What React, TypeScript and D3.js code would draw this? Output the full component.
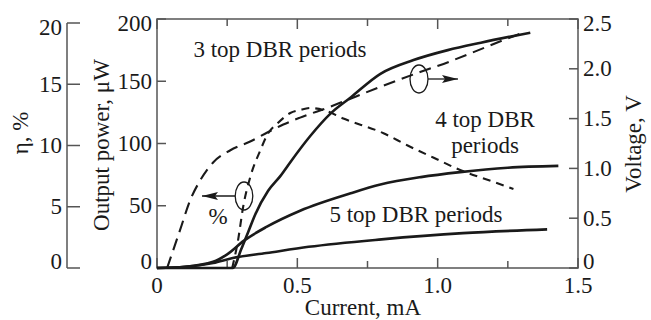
import * as d3 from "d3";

type Pt = [number, number];

// current (mA) vs output power (uW)
const power3: Pt[] = [
  [0, 0], [0.27, 0], [0.3, 15], [0.325, 29], [0.35, 43], [0.396, 62],
  [0.44, 74], [0.475, 85], [0.546, 106], [0.618, 124], [0.69, 137], [0.796, 156],
  [0.914, 167], [1.036, 175], [1.154, 181], [1.33, 189],
];
const power4: Pt[] = [
  [0, 0], [0.1, 1], [0.2, 5], [0.25, 11], [0.31, 22], [0.39, 33],
  [0.51, 46], [0.69, 60], [0.796, 67], [0.94, 73], [1.08, 77],
  [1.25, 80.5], [1.43, 82],
];
const power5: Pt[] = [
  [0, 0], [0.1, 1], [0.2, 4], [0.27, 8], [0.39, 12], [0.54, 17],
  [0.8, 23], [1.09, 28], [1.39, 31],
];
// current (mA) vs voltage (V)
const voltage: Pt[] = [
  [0.036, 0], [0.082, 0.38], [0.118, 0.68], [0.154, 0.88], [0.2, 1.06],
  [0.26, 1.18], [0.332, 1.27], [0.393, 1.36], [0.45, 1.44], [0.51, 1.51],
  [0.618, 1.62], [0.707, 1.72], [0.796, 1.82], [0.94, 1.97], [1.04, 2.07],
  [1.13, 2.17], [1.236, 2.29], [1.3, 2.36],
];
// current (mA) vs efficiency (%)
const eta: Pt[] = [
  [0.268, 0], [0.289, 2.3], [0.307, 5], [0.332, 7.4], [0.368, 9.6],
  [0.396, 11], [0.429, 11.8], [0.475, 12.65], [0.51, 12.9], [0.546, 13.06],
  [0.593, 12.9], [0.664, 12.2], [0.807, 11], [0.893, 10], [0.986, 9],
  [1.08, 8], [1.18, 7.18], [1.27, 6.45],
];

const xTicks = [0, 0.5, 1.0, 1.5];
const xMinor = [0.25, 0.75, 1.25];
const powerTicks = [0, 50, 100, 150, 200];
const voltTicks = [0, 0.5, 1.0, 1.5, 2.0, 2.5];
const etaTicks = [0, 5, 10, 15, 20];

const W = 651;
const H = 320;
const L = 157, R = 578, T = 19, B = 268;
const FONT = "'Liberation Serif', 'Times New Roman', serif";
const INK = "#1a1a1a";
const AXIS = "#555";

export default function App() {
  const x = d3.scaleLinear().domain([0, 1.5]).range([L, R]);
  const yP = d3.scaleLinear().domain([0, 200]).range([B, T]);
  const yV = d3.scaleLinear().domain([0, 2.5]).range([B, T]);
  const yE = d3.scaleLinear().domain([0, 20]).range([B, 23]);

  const mk = (y: d3.ScaleLinear<number, number>) =>
    d3.line<Pt>().x((d) => x(d[0])).y((d) => y(d[1])).curve(d3.curveMonotoneX);

  const fmt = (v: number) => (v === 0 ? "0" : v.toFixed(1));

  // nudge end labels off the frame corners like the original
  const labelDy = (v: number, max: number) => (v === 0 ? -7 : v === max ? 4 : 0);

  return (
    <svg width={W} height={H} style={{ position: "absolute", left: 0, top: 0, background: "#fff" }}
      fontFamily={FONT} fill={INK}>
      <defs>
        <marker id="ah" viewBox="0 0 16 8" refX="16" refY="4" markerWidth="16" markerHeight="8"
          markerUnits="userSpaceOnUse" orient="auto">
          <path d="M0,0 L16,4 L0,8 L3,4 Z" fill={INK} />
        </marker>
      </defs>

      {/* eta axis */}
      <line x1={67} x2={67} y1={yE(20)} y2={yE(0)} stroke={AXIS} strokeWidth={1.5} />
      {etaTicks.map((t) => (
        <g key={"e" + t}>
          <line x1={67} x2={80} y1={yE(t)} y2={yE(t)} stroke={AXIS} strokeWidth={1.5} />
          <text x={62} y={yE(t) + 7.5 + labelDy(t, 20)} textAnchor="end" fontSize={23}>{t}</text>
        </g>
      ))}
      <text transform={`translate(28,133) rotate(-90)`} textAnchor="middle" fontSize={23}>η, %</text>

      {/* frame */}
      <rect x={L} y={T} width={R - L} height={B - T} fill="none" stroke={AXIS} strokeWidth={1.5} />
      {xTicks.concat(xMinor).map((t) => {
        const len = xMinor.includes(t) ? 7 : 10;
        return (
          <g key={"x" + t}>
            <line x1={x(t)} x2={x(t)} y1={B} y2={B - len} stroke={AXIS} strokeWidth={1.5} />
            <line x1={x(t)} x2={x(t)} y1={T} y2={T + len} stroke={AXIS} strokeWidth={1.5} />
          </g>
        );
      })}
      {xTicks.map((t) => (
        <text key={"xl" + t} x={x(t)} y={293} textAnchor="middle" fontSize={23}>{fmt(t)}</text>
      ))}
      <text x={363} y={315} textAnchor="middle" fontSize={23}>Current, mA</text>

      {powerTicks.map((t) => (
        <g key={"p" + t}>
          <line x1={L} x2={L + 9} y1={yP(t)} y2={yP(t)} stroke={AXIS} strokeWidth={1.5} />
          <text x={152} y={yP(t) + 7.5 + labelDy(t, 200)} textAnchor="end" fontSize={23}>{t}</text>
        </g>
      ))}
      <text transform={`translate(109,145) rotate(-90)`} textAnchor="middle" fontSize={23}>Output power, μW</text>

      {voltTicks.map((t) => (
        <g key={"v" + t}>
          <line x1={R - 9} x2={R} y1={yV(t)} y2={yV(t)} stroke={AXIS} strokeWidth={1.5} />
          <text x={583} y={yV(t) + 7.5 + labelDy(t, 2.5)} textAnchor="start" fontSize={23}>{fmt(t)}</text>
        </g>
      ))}
      <text transform={`translate(641,144) rotate(-90)`} textAnchor="middle" fontSize={23}>Voltage, V</text>

      {/* curves */}
      <g fill="none" stroke={INK} strokeWidth={2.6} strokeLinejoin="round">
        <path d={mk(yP)(power3) ?? ""} />
        <path d={mk(yP)(power4) ?? ""} />
        <path d={mk(yP)(power5) ?? ""} />
        <path d={mk(yV)(voltage) ?? ""} strokeDasharray="12,7" strokeWidth={2.1} />
        <path d={mk(yE)(eta) ?? ""} strokeDasharray="8,6" strokeWidth={2.1} />
      </g>

      {/* curve markers */}
      <g fill="none" stroke={INK} strokeWidth={1.3}>
        <ellipse cx={244} cy={196} rx={8.8} ry={14} />
        <line x1={235} y1={196} x2={202} y2={196} markerEnd="url(#ah)" />
        <ellipse cx={419} cy={79} rx={9} ry={14} />
        <line x1={428} y1={79} x2={458} y2={79} markerEnd="url(#ah)" />
      </g>

      <text x={280} y={57} textAnchor="middle" fontSize={23}>3 top DBR periods</text>
      <text x={485} y={127} textAnchor="middle" fontSize={23}>4 top DBR</text>
      <text x={485} y={153} textAnchor="middle" fontSize={23}>periods</text>
      <text x={416} y={222} textAnchor="middle" fontSize={23}>5 top DBR periods</text>
      <text x={218} y={224} textAnchor="middle" fontSize={23}>%</text>
    </svg>
  );
}
